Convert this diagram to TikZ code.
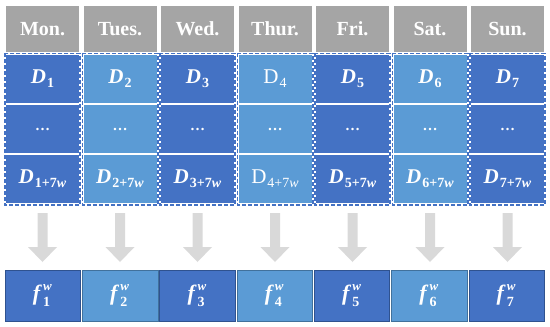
\documentclass[tikz,border=0pt]{standalone}
\usepackage{fontspec}
\setmainfont{Liberation Serif}
\definecolor{dblue}{HTML}{4472C4}
\definecolor{lblue}{HTML}{5B9BD5}
\definecolor{dbord}{HTML}{2F528F}
\definecolor{lbord}{HTML}{41719C}
\definecolor{hgray}{HTML}{A5A5A5}
\definecolor{agray}{HTML}{D9D9D9}
\newcommand\bi[1]{\textbf{\textit{#1}}}
\newcommand\sbs[1]{\raisebox{-0.4ex}{\fontsize{14}{14}\selectfont #1}}
\newcommand\DB[1]{\bi{D}\kern1pt\sbs{\bfseries #1}}
\newcommand\DR[1]{D\kern1pt\sbs{#1}}
\newcommand\FB[1]{\bi{f}\kern1pt\makebox[0pt][l]{\raisebox{1.0ex}{\fontsize{13}{13}\selectfont\bi{w}}}\raisebox{-0.55ex}{\fontsize{14}{14}\selectfont\bfseries #1}\kern3pt}
\begin{document}
\begin{tikzpicture}[x=1pt,y=-1pt,
  hdr/.style={fill=hgray,draw=none,minimum width=73pt,minimum height=46pt,inner sep=0pt,text=white,font=\fontsize{20}{22}\selectfont\bfseries},
  cell/.style={draw=none,minimum width=73pt,minimum height=48pt,inner sep=0pt,text=white,font=\fontsize{21}{23}\selectfont},
  fbox/.style={minimum width=75.5pt,minimum height=51pt,inner sep=0pt,text=white,line width=1pt,font=\fontsize{22}{24}\selectfont},
  darkc/.style={fill=dblue},
  lightc/.style={fill=lblue},
  darkf/.style={fill=dblue,draw=dbord},
  lightf/.style={fill=lblue,draw=lbord},
  outw/.style={draw=white,line width=1.6pt},
  outl/.style={draw=dblue,dash pattern=on 4pt off 2pt,line width=1.6pt},
  bigarrow/.style={fill=agray,draw=none}
]
\useasboundingbox (0,0) rectangle (550,327);
\foreach \i/\day/\sty/\a/\c in {1/Mon./darkc/{\DB{1}}/{\DB{1+7\bi{w}}},
  2/Tues./lightc/{\DB{2}}/{\DB{2+7\bi{w}}},
  3/Wed./darkc/{\DB{3}}/{\DB{3+7\bi{w}}},
  4/Thur./lightc/{\DR{4}}/{\DR{4+7\textit{w}}},
  5/Fri./darkc/{\DB{5}}/{\DB{5+7\bi{w}}},
  6/Sat./lightc/{\DB{6}}/{\DB{6+7\bi{w}}},
  7/Sun./darkc/{\DB{7}}/{\DB{7+7\bi{w}}}}{
  \pgfmathsetmacro{\cx}{42.5+77.5*(\i-1)}
  \node[hdr] (h\i) at (\cx,29) {\day};
  \node[cell,\sty] (a\i) at (\cx,79) {\a};
  \node[cell,\sty] (b\i) at (\cx,129) {\raisebox{-0.3ex}{\fontsize{15}{15}\selectfont\textbf{\ldots}}};
  \node[cell,\sty] (c\i) at (\cx,179) {\c};
  \draw[outw] ([xshift=-1pt,yshift=1.5pt]a\i.north west) rectangle ([xshift=1pt,yshift=-1.5pt]c\i.south east);
  \draw[outl] ([xshift=-1pt,yshift=1.5pt]a\i.north west) rectangle ([xshift=1pt,yshift=-1.5pt]c\i.south east);
}
\foreach \i/\sty in {1/darkf,2/lightf,3/darkf,4/lightf,5/darkf,6/lightf,7/darkf}{
  \pgfmathsetmacro{\fx}{43+77.3*(\i-1)}
  \node[fbox,\sty] (f\i) at (\fx,295.5) {\FB{\i}};
  \pgfmathsetmacro{\ax}{42.5+77.5*(\i-1)}
  \coordinate (t\i) at (\ax,213);
  \fill[agray] ([xshift=-5pt]t\i) -- ([xshift=5pt]t\i) -- ([xshift=5pt,yshift=-34pt]t\i)
    -- ([xshift=14.5pt,yshift=-34pt]t\i) -- ([yshift=-49pt]t\i) -- ([xshift=-14.5pt,yshift=-34pt]t\i)
    -- ([xshift=-5pt,yshift=-34pt]t\i) -- cycle;
}
\end{tikzpicture}
\end{document}
